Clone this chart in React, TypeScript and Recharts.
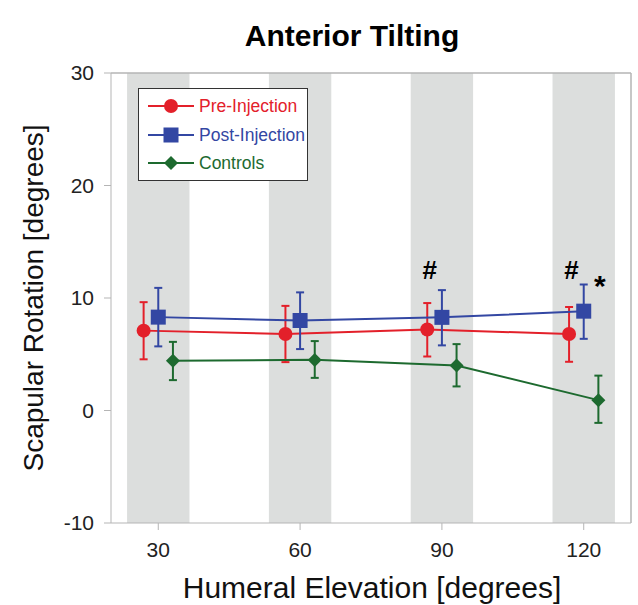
import React from 'react';
import {
  ComposedChart,
  Line,
  XAxis,
  YAxis,
  ErrorBar,
  ReferenceArea,
  ReferenceLine,
  ReferenceDot,
  Legend,
  Customized,
} from 'recharts';

// ---- data ----
const elevations = [30, 60, 90, 120];
const yTicks = [-10, 0, 10, 20, 30];

const preInjection = [7.1, 6.8, 7.2, 6.8];
const preErr = [[2.55, 2.53], [2.5, 2.5], [2.4, 2.35], [2.47, 2.4]];

const postInjection = [8.3, 8.0, 8.28, 8.83];
const postErr = [[2.6, 2.6], [2.54, 2.5], [2.49, 2.42], [2.46, 2.37]];

const controls = [4.42, 4.5, 4.0, 0.92];
const controlsErr = [[1.72, 1.68], [1.6, 1.67], [1.86, 1.9], [2.02, 2.18]];

const hashMarks = [90, 120];
const starMarks = [120];

// ---- styling / layout ----
const FONT = '"Liberation Sans", Arial, Helvetica, sans-serif';
const RED = '#e3202a';
const BLUE = '#3347a3';
const GREEN = '#1d6a2f';
const BAND = '#dcdedd';
const AXIS = '#b5b5b5';
const BAND_HALF = 6.6;
const OFFSET_PRE = -3.1;
const OFFSET_POST = 0;
const OFFSET_CTRL = 3.1;

const build = (vals: number[], errs: number[][], off: number) =>
  elevations.map((e, i) => ({ x: e + off, y: vals[i], err: errs[i] }));

const preData = build(preInjection, preErr, OFFSET_PRE);
const postData = build(postInjection, postErr, OFFSET_POST);
const ctrlData = build(controls, controlsErr, OFFSET_CTRL);

const Circle = (p: any) =>
  p.cx == null ? null : <circle key={`c${p.index}`} cx={p.cx} cy={p.cy} r={7} fill={RED} stroke="none" />;
const Square = (p: any) =>
  p.cx == null ? null : (
    <rect key={`s${p.index}`} x={p.cx - 7.5} y={p.cy - 7.5} width={15} height={15} fill={BLUE} stroke="none" />
  );
const Diamond = (p: any) =>
  p.cx == null ? null : (
    <polygon
      key={`d${p.index}`}
      points={`${p.cx},${p.cy - 7} ${p.cx + 7},${p.cy} ${p.cx},${p.cy + 7} ${p.cx - 7},${p.cy}`}
      fill={GREEN}
      stroke="none"
    />
  );

const SERIES = [
  { name: 'Pre-Injection', color: RED, marker: 'circle' },
  { name: 'Post-Injection', color: BLUE, marker: 'square' },
  { name: 'Controls', color: GREEN, marker: 'diamond' },
];

const LegendMarker = ({ kind, color }: { kind: string; color: string }) => (
  <svg width={46} height={16} style={{ display: 'block', flex: 'none' }}>
    <line x1={0} y1={8} x2={46} y2={8} stroke={color} strokeWidth={2} />
    {kind === 'circle' && <circle cx={23} cy={8} r={7} fill={color} />}
    {kind === 'square' && <rect x={15.5} y={0.5} width={15} height={15} fill={color} />}
    {kind === 'diamond' && <polygon points="23,1 30,8 23,15 16,8" fill={color} />}
  </svg>
);

const renderLegend = () => (
  <div
    style={{
      boxSizing: 'border-box',
      width: 170,
      height: 93,
      border: '1.5px solid #333',
      background: '#fff',
      padding: '3px 0 0 9px',
      fontFamily: FONT,
      overflow: 'visible',
    }}
  >
    {SERIES.map((s) => (
      <div key={s.name} style={{ display: 'flex', alignItems: 'center', height: 28.5, whiteSpace: 'nowrap' }}>
        <LegendMarker kind={s.marker} color={s.color} />
        <span style={{ color: s.color, fontSize: 17.5, marginLeft: 5, lineHeight: '20px', whiteSpace: 'nowrap' }}>
          {s.name}
        </span>
      </div>
    ))}
  </div>
);

const Texts = () => (
  <g fontFamily={FONT}>
    <text x={352} y={46} textAnchor="middle" fontSize={30} fontWeight="bold" fill="#000">
      Anterior Tilting
    </text>
    <text x={372} y={598} textAnchor="middle" fontSize={30} fill="#111">
      Humeral Elevation [degrees]
    </text>
    <text x={43} y={298} textAnchor="middle" fontSize={28} fill="#111" transform="rotate(-90, 43, 298)">
      Scapular Rotation [degrees]
    </text>
  </g>
);

export default function App() {
  return (
    <div style={{ position: 'absolute', left: 0, top: 0, width: 638, height: 605, background: '#fff' }}>
      <ComposedChart width={638} height={605} margin={{ top: 73, right: 7, left: 0, bottom: 0 }}>
        <XAxis
          type="number"
          dataKey="x"
          domain={[20, 130]}
          ticks={elevations}
          allowDataOverflow
          height={82}
          tickSize={7}
          tickMargin={12}
          stroke={AXIS}
          tick={{ fill: '#222', fontSize: 21, fontFamily: FONT }}
        />
        <YAxis
          type="number"
          domain={[-10, 30]}
          ticks={yTicks}
          allowDataOverflow
          width={111}
          tickSize={7}
          tickMargin={10}
          stroke={AXIS}
          tick={{ fill: '#222', fontSize: 21, fontFamily: FONT }}
        />
        {elevations.map((e) => (
          <ReferenceArea key={`band${e}`} x1={e - BAND_HALF} x2={e + BAND_HALF} fill={BAND} fillOpacity={1} stroke="none" />
        ))}
        <ReferenceLine y={30} stroke={AXIS} strokeWidth={1.5} />
        <ReferenceLine x={130} stroke={AXIS} strokeWidth={1.5} />
        <Line
          data={preData}
          dataKey="y"
          name="Pre-Injection"
          stroke={RED}
          strokeWidth={2}
          dot={Circle}
          activeDot={false}
          isAnimationActive={false}
        >
          <ErrorBar dataKey="err" direction="y" width={4} stroke={RED} strokeWidth={2} />
        </Line>
        <Line
          data={postData}
          dataKey="y"
          name="Post-Injection"
          stroke={BLUE}
          strokeWidth={2}
          dot={Square}
          activeDot={false}
          isAnimationActive={false}
        >
          <ErrorBar dataKey="err" direction="y" width={4} stroke={BLUE} strokeWidth={2} />
        </Line>
        <Line
          data={ctrlData}
          dataKey="y"
          name="Controls"
          stroke={GREEN}
          strokeWidth={2}
          dot={Diamond}
          activeDot={false}
          isAnimationActive={false}
        >
          <ErrorBar dataKey="err" direction="y" width={4} stroke={GREEN} strokeWidth={2} />
        </Line>
        {hashMarks.map((e) => (
          <ReferenceDot
            key={`h${e}`}
            x={e - 2.6}
            y={12.5}
            r={0}
            fill="none"
            stroke="none"
            label={{ value: '#', position: 'center', fontSize: 26, fontWeight: 'bold', fill: '#000', fontFamily: FONT }}
          />
        ))}
        {starMarks.map((e) => (
          <ReferenceDot
            key={`s${e}`}
            x={e + 3.4}
            y={11.1}
            r={0}
            fill="none"
            stroke="none"
            label={{ value: '*', position: 'center', fontSize: 30, fontWeight: 'bold', fill: '#000', fontFamily: FONT }}
          />
        ))}
        <Legend
          layout="vertical"
          align="center"
          verticalAlign="middle"
          content={renderLegend}
          wrapperStyle={{ position: 'absolute', left: 138, top: 88, width: 170, height: 93 }}
        />
        <Customized component={Texts} />
      </ComposedChart>
    </div>
  );
}
